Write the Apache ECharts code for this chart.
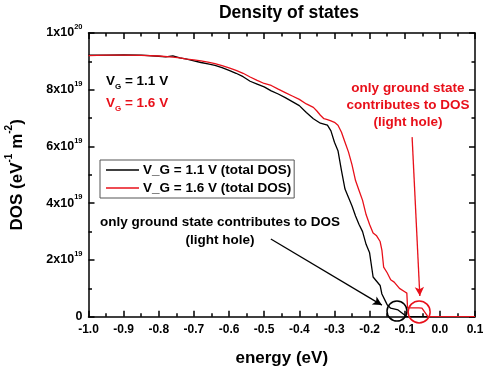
<!DOCTYPE html>
<html><head><meta charset="utf-8">
<script src="https://cdn.jsdelivr.net/npm/echarts@6/dist/echarts.min.js"></script>
<style>html,body{margin:0;padding:0;background:#fff}#c{width:483px;height:369px}</style>
</head><body><div id="c"></div>
<script>
// Energy (eV) and DOS (units of 1e19 eV^-1 m^-2)
const energyBlack = [-1.00,-0.95,-0.90,-0.85,-0.80,-0.78,-0.76,-0.74,-0.72,-0.70,-0.68,-0.66,-0.64,-0.62,-0.60,-0.58,-0.56,-0.54,-0.52,-0.50,-0.48,-0.46,-0.44,-0.42,-0.40,-0.38,-0.36,-0.34,-0.32,-0.31,-0.30,-0.29,-0.28,-0.27,-0.26,-0.25,-0.24,-0.23,-0.22,-0.21,-0.20,-0.19,-0.18,-0.17,-0.165,-0.155,-0.15,-0.14,-0.136,-0.119,-0.094,0.10];
const dosBlack    = [9.22,9.22,9.23,9.22,9.18,9.16,9.19,9.12,9.08,9.02,8.96,8.91,8.86,8.78,8.68,8.58,8.46,8.30,8.20,8.10,7.96,7.85,7.72,7.58,7.44,7.20,6.98,6.82,6.75,6.55,6.15,5.85,5.15,4.50,4.20,3.90,3.55,3.25,3.00,2.55,2.25,1.40,1.25,1.10,0.80,0.55,0.42,0.30,0.24,0.24,0,0];
const energyRed = [-1.00,-0.95,-0.90,-0.85,-0.80,-0.76,-0.74,-0.72,-0.70,-0.68,-0.66,-0.64,-0.62,-0.60,-0.58,-0.56,-0.54,-0.52,-0.50,-0.48,-0.46,-0.44,-0.42,-0.40,-0.38,-0.36,-0.35,-0.34,-0.33,-0.32,-0.31,-0.30,-0.29,-0.28,-0.27,-0.26,-0.25,-0.24,-0.23,-0.22,-0.21,-0.20,-0.19,-0.18,-0.17,-0.165,-0.16,-0.15,-0.14,-0.13,-0.125,-0.115,-0.10,-0.094,-0.092,-0.06,-0.051,-0.034,0.10];
const dosRed    = [9.20,9.22,9.22,9.21,9.19,9.15,9.12,9.08,9.05,9.02,8.97,8.92,8.85,8.77,8.68,8.58,8.45,8.33,8.22,8.15,8.02,7.90,7.78,7.66,7.50,7.38,7.25,7.10,6.98,6.95,6.90,6.85,6.75,6.50,6.15,5.80,5.35,4.80,4.45,4.10,3.60,3.25,2.95,2.85,2.65,2.35,1.75,1.55,1.30,1.22,1.25,1.00,0.88,0.83,0.31,0.31,0.30,0,0];
const seriesNames = ['V_G = 1.1 V (total DOS)','V_G = 1.6 V (total DOS)'];
const xTickMin = -1.0, xTickMax = 0.1, xTickStep = 0.1;
const yTickMin = 0, yTickMax = 10, yTickStep = 2;
// annotation anchors (data coords)
const circleBlack = [-0.122, 0.20];
const circleRed = [-0.059, 0.17];
const arrowBlack = [[-0.481, 2.74], [-0.165, 0.41]];
const arrowRed = [[-0.079, 6.33], [-0.057, 0.73]];

const FF = '"Liberation Sans", Arial, sans-serif';
const RED = '#e8101a';
const chart = echarts.init(document.getElementById('c'));
const zip = (a, b) => a.map((v, i) => [v, b[i]]);
const tickCommon = () => ({
  axisLine: {show: true, onZero: false, lineStyle: {color: '#000', width: 1.5}},
  axisTick: {show: true, inside: true, length: 6, lineStyle: {color: '#000', width: 1.5}},
  minorTick: {show: true, splitNumber: 2, length: 3.5, lineStyle: {color: '#000', width: 1.5}},
  splitLine: {show: false}
});
chart.setOption({
  animation: false,
  backgroundColor: '#fff',
  title: {text: 'Density of states', left: 284, textAlign: 'center', top: -1,
    textStyle: {fontFamily: FF, fontWeight: 'bold', fontSize: 17.5, color: '#000'}},
  grid: {left: 88.5, right: 8, top: 33, bottom: 52.3, containLabel: false, outerBoundsMode: 'none'},
  legend: {
    left: 100, top: 160, orient: 'vertical', itemGap: 4,
    itemWidth: 33, itemHeight: 1.6, icon: 'rect',
    borderColor: '#555', borderWidth: 1, padding: [3, 3, 3, 6],
    textStyle: {fontFamily: FF, fontWeight: 'bold', fontSize: 13.5, color: '#000', padding: [0, 0, 0, -1]},
    data: seriesNames
  },
  xAxis: [
    Object.assign({type: 'value', min: xTickMin, max: xTickMax, interval: xTickStep,
      name: 'energy (eV)', nameLocation: 'middle', nameGap: 33,
      nameTextStyle: {fontFamily: FF, fontWeight: 'bold', fontSize: 17, color: '#000'},
      axisLabel: {margin: 7, fontFamily: FF, fontWeight: 'bold', fontSize: 12, color: '#000',
        formatter: v => v.toFixed(1)}}, tickCommon()),
    Object.assign({type: 'value', position: 'top', min: xTickMin, max: xTickMax, interval: xTickStep,
      axisLabel: {show: false}}, tickCommon())
  ],
  yAxis: [
    Object.assign({type: 'value', min: yTickMin, max: yTickMax, interval: yTickStep,
      name: '{a|DOS (eV}{s|-1}{a| m}{s|-2}{a|)}', nameLocation: 'middle', nameGap: 58, nameRotate: 90,
      nameTextStyle: {rich: {
        a: {fontFamily: FF, fontWeight: 'bold', fontSize: 17, color: '#000', lineHeight: 26},
        s: {fontFamily: FF, fontWeight: 'bold', fontSize: 10, color: '#000', verticalAlign: 'top', lineHeight: 26}}},
      axisLabel: {margin: 6, formatter: v => v === 0 ? '{b|0}' : (v === 10 ? '{b|1x10}{s|20}' : '{b|' + v + 'x10}{s|19}'),
        rich: {b: {fontFamily: FF, fontWeight: 'bold', fontSize: 12.5, color: '#000', lineHeight: 20},
               s: {fontFamily: FF, fontWeight: 'bold', fontSize: 7.5, color: '#000', verticalAlign: 'top', lineHeight: 20}}}}, tickCommon()),
    Object.assign({type: 'value', position: 'right', min: yTickMin, max: yTickMax, interval: yTickStep,
      axisLabel: {show: false}}, tickCommon())
  ],
  series: [
    {name: seriesNames[0], type: 'line', symbol: 'none', data: zip(energyBlack, dosBlack),
      lineStyle: {color: '#000', width: 1.3}, itemStyle: {color: '#000'},
      markPoint: {symbol: 'circle', symbolSize: 20, silent: true, label: {show: false},
        itemStyle: {color: 'rgba(0,0,0,0)', borderColor: '#000', borderWidth: 1.5},
        data: [{coord: circleBlack}]},
      markLine: {silent: true, symbol: ['none', 'arrow'], symbolSize: [7, 9], label: {show: false},
        lineStyle: {color: '#000', width: 1.3, type: 'solid'},
        data: [[{coord: arrowBlack[0]}, {coord: arrowBlack[1]}]]}},
    {name: seriesNames[1], type: 'line', symbol: 'none', data: zip(energyRed, dosRed),
      lineStyle: {color: RED, width: 1.3}, itemStyle: {color: RED},
      markPoint: {symbol: 'circle', symbolSize: 22, silent: true, label: {show: false},
        itemStyle: {color: 'rgba(0,0,0,0)', borderColor: RED, borderWidth: 1.5},
        data: [{coord: circleRed}]},
      markLine: {silent: true, symbol: ['none', 'arrow'], symbolSize: [7, 9], label: {show: false},
        lineStyle: {color: RED, width: 1.3, type: 'solid'},
        data: [[{coord: arrowRed[0]}, {coord: arrowRed[1]}]]}}
  ],
  graphic: [
    {type: 'text', left: 106, top: 74, style: {
      text: '{v|V}{g|G}{v| = 1.1 V}', fill: '#000',
      rich: {v: {fontFamily: FF, fontWeight: 'bold', fontSize: 13.5, fill: '#000', lineHeight: 20},
             g: {fontFamily: FF, fontWeight: 'bold', fontSize: 8, fill: '#000', verticalAlign: 'bottom', lineHeight: 20}}}},
    {type: 'text', left: 106, top: 96, style: {
      text: '{v|V}{g|G}{v| = 1.6 V}', fill: RED,
      rich: {v: {fontFamily: FF, fontWeight: 'bold', fontSize: 13.5, fill: RED, lineHeight: 20},
             g: {fontFamily: FF, fontWeight: 'bold', fontSize: 8, fill: RED, verticalAlign: 'bottom', lineHeight: 20}}}},
    {type: 'text', x: 408, y: 80, style: {
      text: 'only ground state\ncontributes to DOS\n(light hole)', fill: RED, align: 'center',
      font: 'bold 13.5px ' + FF, lineHeight: 17}},
    {type: 'text', x: 220, y: 213, style: {
      text: 'only ground state contributes to DOS\n(light hole)', fill: '#000', align: 'center',
      font: 'bold 13.5px ' + FF, lineHeight: 18}}
  ]
});
</script></body></html>
